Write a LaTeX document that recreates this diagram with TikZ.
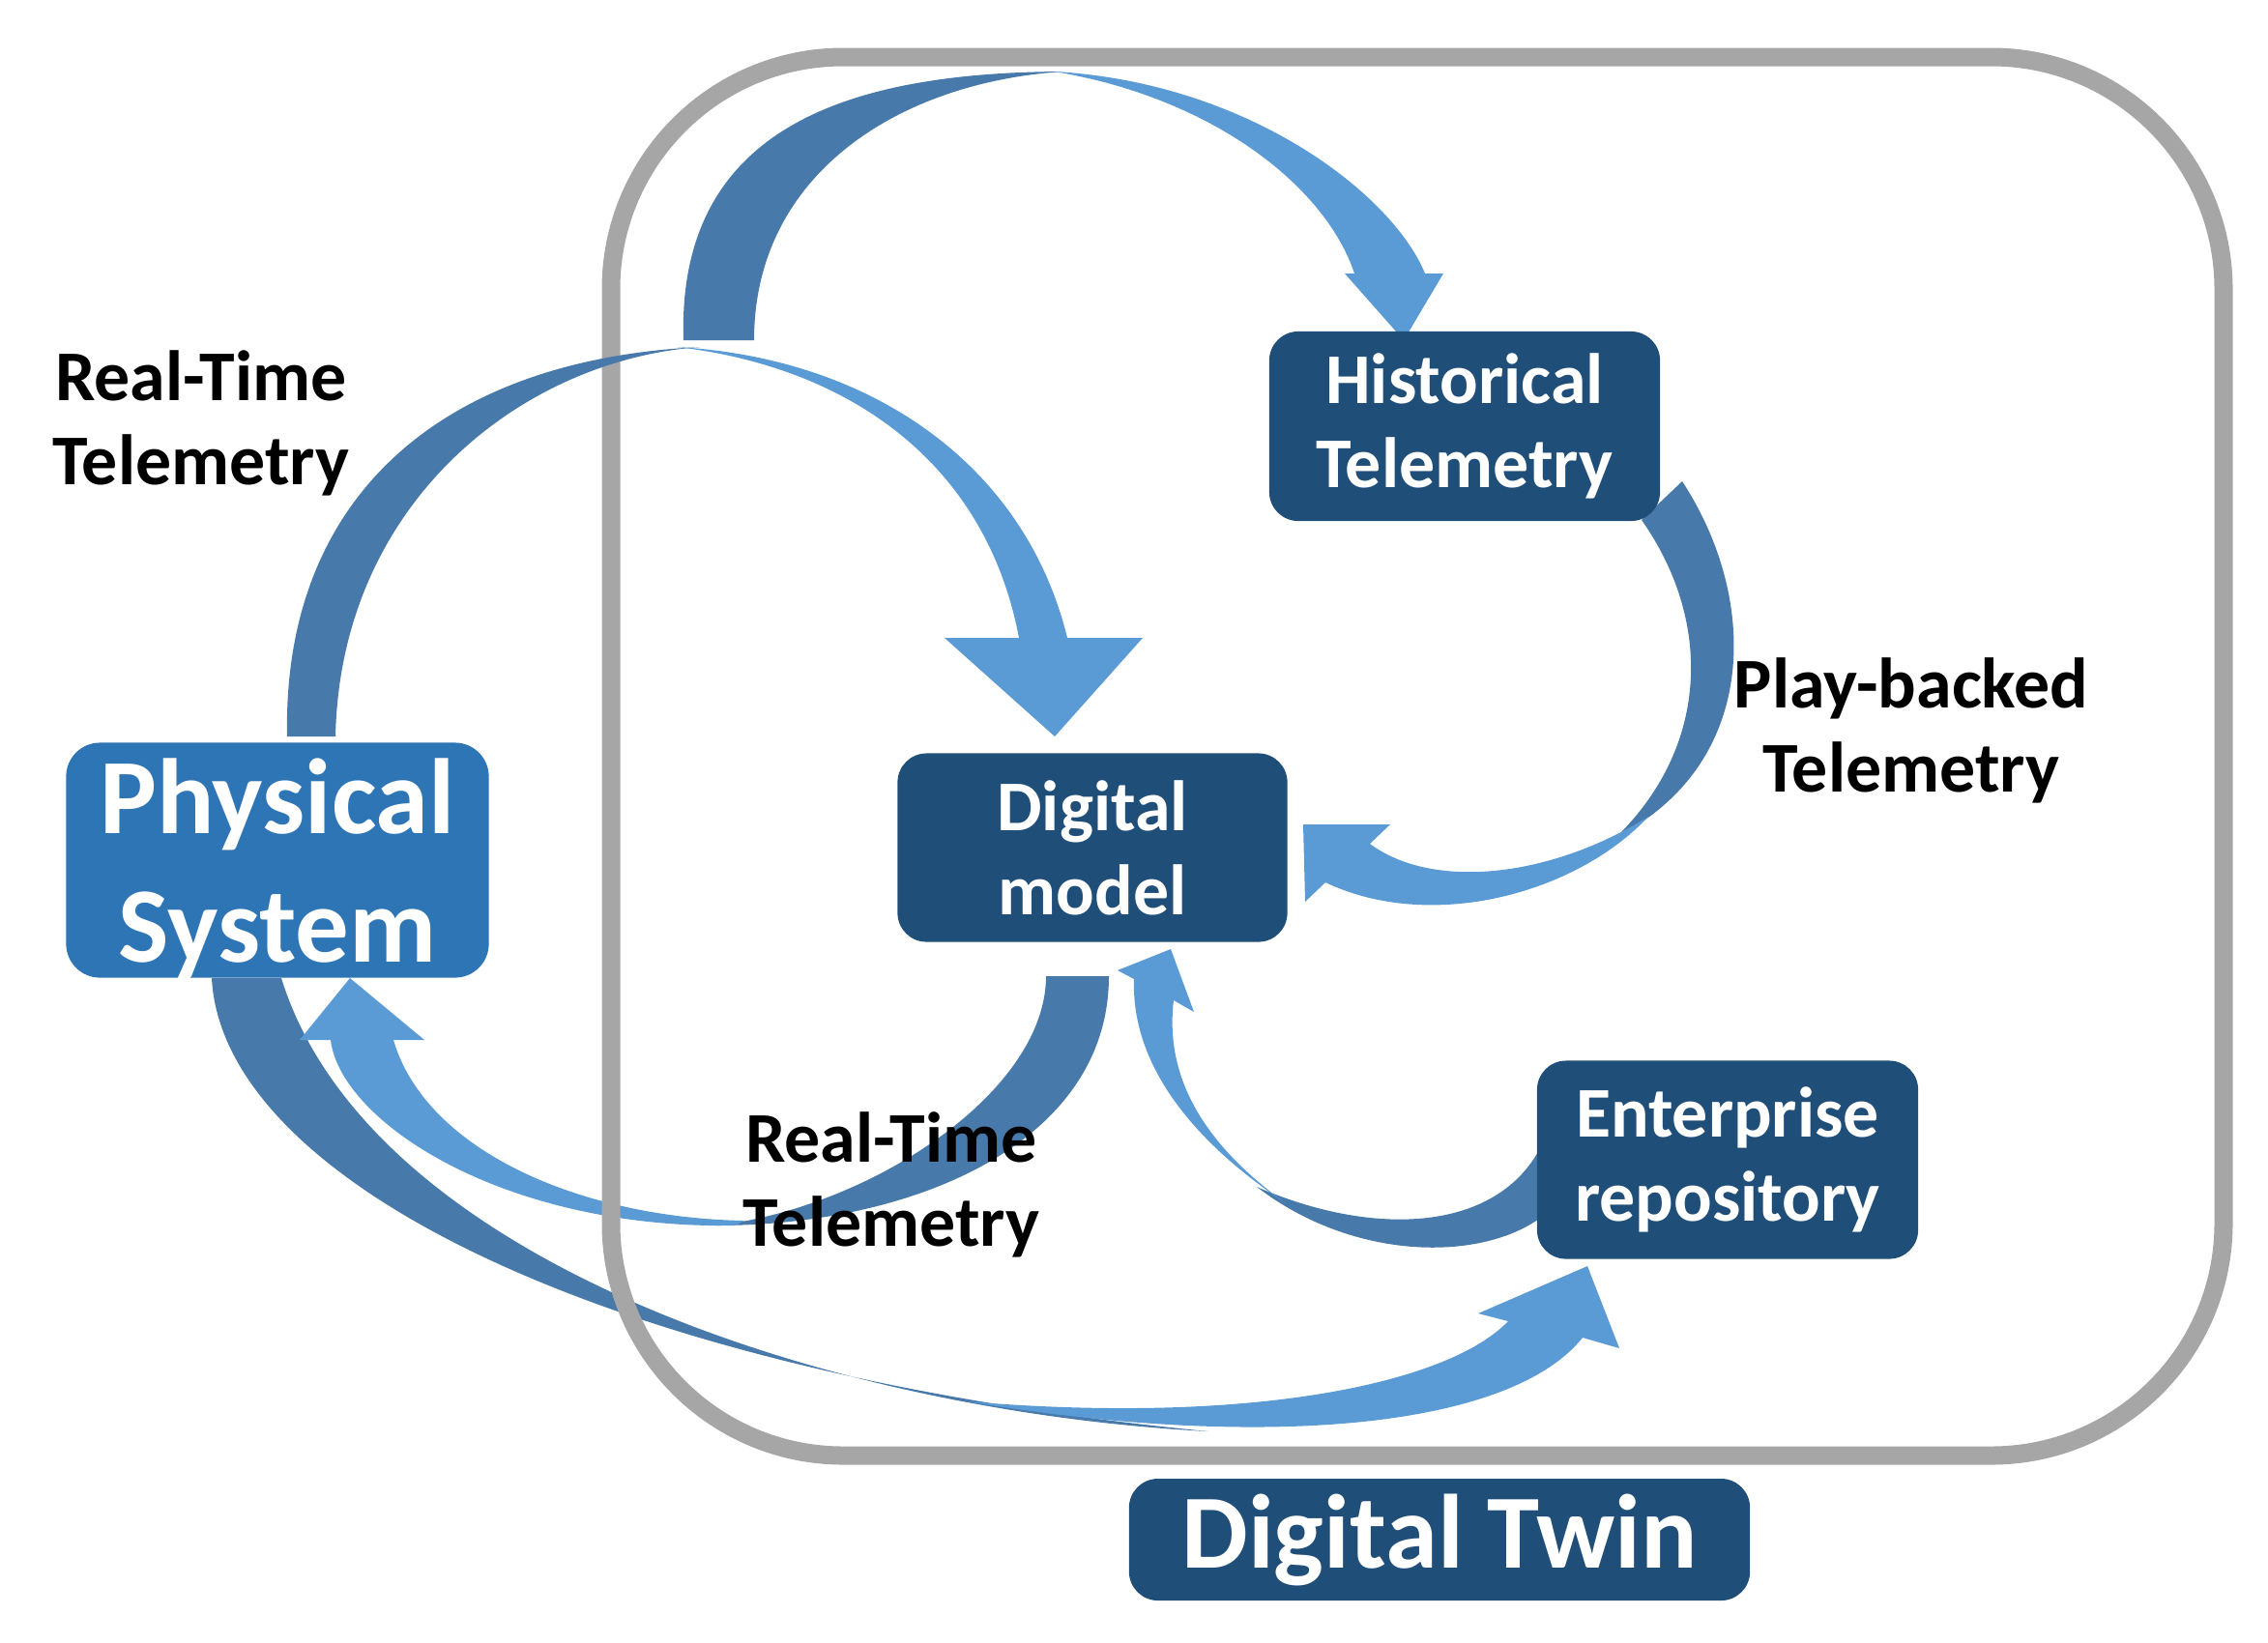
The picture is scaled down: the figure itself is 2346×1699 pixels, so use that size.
\documentclass[tikz,border=0pt]{standalone}
\usepackage{fontspec}
\setmainfont{Carlito}
\definecolor{boxblue}{RGB}{31,78,121}
\definecolor{physblue}{RGB}{46,117,182}
\definecolor{arrowlight}{RGB}{91,155,213}
\definecolor{arrowdark}{RGB}{71,122,170}
\definecolor{framegray}{RGB}{166,166,166}
\tikzset{
  box/.style={rounded corners=0.3cm, fill=boxblue, text=white, align=center, inner sep=0pt,
    font=\bfseries\fontsize{21}{24.75}\selectfont},
  lbl/.style={text=black, align=center, font=\bfseries\fontsize{21}{24.75}\selectfont},
  back/.style={fill=arrowdark},
  front/.style={fill=arrowlight}
}
\begin{document}
\begin{tikzpicture}[x=0.01cm, y=-0.01cm]
 \useasboundingbox (0,0) rectangle (2346,1699);
 % Physical -> repository, long sweep
 \fill[back] (219,1012) .. controls (230,1220) and (620,1420) .. (1250,1481)
   .. controls (850,1460) and (380,1300) .. (291,1012) -- cycle;
 \fill[front] (1000,1450) .. controls (1300,1475) and (1500,1430) .. (1560,1367)
   -- (1529,1359) -- (1642,1310) -- (1675,1395) -- (1637,1384)
   .. controls (1560,1480) and (1300,1500) .. (1000,1450) -- cycle;
 % model -> Physical
 \fill[back] (1147,1010) .. controls (1147,1180) and (950,1268) .. (740,1268)
   .. controls (900,1250) and (1082,1130) .. (1082,1010) -- cycle;
 \fill[front] (760,1268) .. controls (520,1272) and (352,1160) .. (342,1076)
   -- (310,1076) -- (362,1012) -- (439,1076) -- (407,1076)
   .. controls (440,1190) and (600,1260) .. (770,1263) -- cycle;
 % frame of the twin
 \draw[framegray, line width=0.19cm, rounded corners=2.4cm] (632,59) rectangle (2300,1506);
 % historical -> model
 \fill[back] (1740,498) .. controls (1820,620) and (1820,790) .. (1672,866)
   .. controls (1770,770) and (1770,640) .. (1698,538) -- cycle;
 \fill[front] (1705,845) .. controls (1630,925) and (1480,965) .. (1371,913)
   -- (1350,933) -- (1348,853) -- (1438,853) -- (1417,873)
   .. controls (1480,920) and (1600,910) .. (1705,845) -- cycle;
 % repository -> model
 \fill[back] (1592,1190) .. controls (1545,1275) and (1420,1280) .. (1300,1228)
   .. controls (1400,1305) and (1530,1305) .. (1592,1261) -- cycle;
 \fill[front] (1330,1245) .. controls (1225,1175) and (1170,1095) .. (1173,1013)
   -- (1156,1004) -- (1211,982) -- (1235,1047) -- (1214,1035)
   .. controls (1205,1110) and (1240,1180) .. (1330,1245) -- cycle;
 % top arc -> historical
 \fill[back] (707,352) .. controls (700,130) and (880,75) .. (1100,74)
   .. controls (930,85) and (780,180) .. (780,352) -- cycle;
 \fill[front] (1090,74) .. controls (1290,85) and (1440,200) .. (1474,283)
   -- (1493,283) -- (1452,352) -- (1391,283) -- (1401,283)
   .. controls (1370,190) and (1250,100) .. (1090,74) -- cycle;
 % Physical -> model
 \fill[back] (297,762) .. controls (292,520) and (450,372) .. (725,359)
   .. controls (540,372) and (352,520) .. (347,762) -- cycle;
 \fill[front] (700,359) .. controls (900,370) and (1060,480) .. (1104,660)
   -- (1182,660) -- (1091,762) -- (977,660) -- (1054,660)
   .. controls (1020,480) and (880,380) .. (700,359) -- cycle;
 % boxes
 \node[box, minimum width=4.04cm, minimum height=1.96cm] (hist) at (1515,441) {Historical\\Telemetry};
 \node[box, minimum width=4.03cm, minimum height=1.95cm] (model) at (1130,877) {Digital\\model};
 \node[box, minimum width=3.94cm, minimum height=2.05cm] (repo) at (1787,1200) {Enterprise\\repository};
 \node[box, fill=physblue, rounded corners=0.35cm, minimum width=4.37cm, minimum height=2.43cm,
   text depth=0pt, font=\bfseries\fontsize{31.5}{37.8}\selectfont] (phys) at (287,890) {Physical\\System};
 \node[box, minimum width=6.42cm, minimum height=1.26cm,
   font=\bfseries\fontsize{31}{36}\selectfont] (twin) at (1489,1593) {Digital Twin};
 % labels
 \node[lbl] (rtin) at (208,438) {Real-Time\\Telemetry};
 \node[lbl] (rtout) at (922,1226) {Real-Time\\Telemetry};
 \node[lbl] (replay) at (1977,756) {Play-backed\\Telemetry};
\end{tikzpicture}
\end{document}
